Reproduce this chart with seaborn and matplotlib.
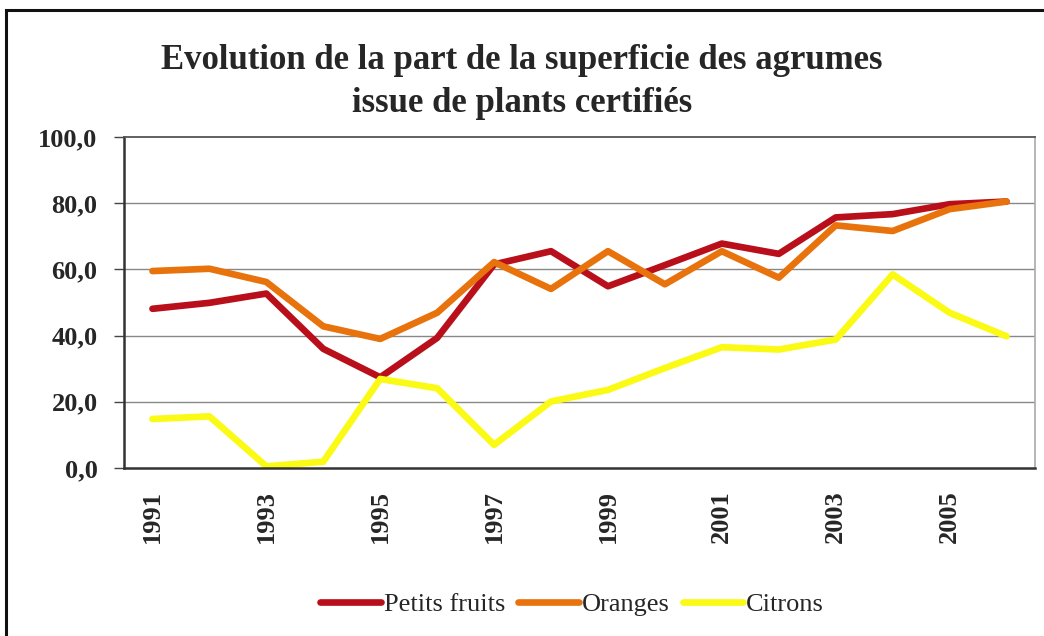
import numpy as np
import pandas as pd
import matplotlib
matplotlib.use("Agg")
import matplotlib.pyplot as plt
import seaborn as sns
from matplotlib.lines import Line2D
from matplotlib.patches import Rectangle

years = list(range(1991, 2007))
petits_fruits = [48.1, 49.9, 52.7, 36.0, 27.4, 39.3, 61.5, 65.5, 54.9, 61.3, 67.8, 64.7, 75.7, 76.7, 79.7, 80.5]
oranges = [59.5, 60.2, 56.2, 42.8, 39.0, 46.9, 62.2, 54.1, 65.5, 55.5, 65.5, 57.5, 73.3, 71.6, 78.2, 80.5]
citrons = [14.8, 15.6, 0.5, 1.9, 26.9, 24.1, 7.0, 20.1, 23.6, 30.2, 36.5, 35.8, 38.8, 58.5, 46.9, 39.8]
series_names = ["Petits fruits", "Oranges", "Citrons"]
colors = ["#B80F1A", "#E8720C", "#FAFA14"]
y_ticks = [0, 20, 40, 60, 80, 100]
y_labels = ["0,0", "20,0", "40,0", "60,0", "80,0", "100,0"]
title = "Evolution de la part de la superficie des agrumes\nissue de plants certifiés"

sns.set_theme(style="white")
plt.rcParams["font.family"] = ["Liberation Serif", "DejaVu Serif"]

rows = []
for name, vals in zip(series_names, [petits_fruits, oranges, citrons]):
    for i, (yr, v) in enumerate(zip(years, vals)):
        rows.append({"idx": i, "year": yr, "value": v, "series": name})
df = pd.DataFrame(rows)

fig = plt.figure(figsize=(10.44, 6.36), dpi=100)
fig.patch.set_facecolor("white")
ax = fig.add_axes([124 / 1044, 1 - 468 / 636, (1035 - 124) / 1044, (468 - 137) / 636])

sns.lineplot(data=df, x="idx", y="value", hue="series", hue_order=series_names,
             palette=colors, linewidth=4.8, legend=False, ax=ax, sort=False)

ax.set_xlim(-0.5, len(years) - 0.5)
ax.set_ylim(0, 100)
ax.set_yticks(y_ticks)
ax.set_yticklabels(y_labels, fontsize=19, fontweight="bold")
ax.set_xticks(range(0, len(years), 2))
ax.set_xticklabels([str(y) for y in years[::2]], rotation=90, fontsize=19, fontweight="bold")
ax.set_xticks(np.arange(-0.5, len(years), 1), minor=True)
ax.tick_params(axis="x", which="major", length=0, pad=16)
ax.tick_params(axis="x", which="minor", length=6, width=1, color="#444444", direction="out")
ax.tick_params(axis="y", which="major", length=7, width=1, color="#444444", direction="out", pad=12, left=True)
ax.set_xlabel("")
ax.set_ylabel("")
ax.grid(False)
for v in y_ticks[1:-1]:
    ax.axhline(v, color="#888888", linewidth=1.0, zorder=0)

for side in ["left", "bottom"]:
    ax.spines[side].set_color("#333333")
    ax.spines[side].set_linewidth(1.8)
ax.spines["top"].set_color("#555555")
ax.spines["top"].set_linewidth(1.3)
ax.spines["right"].set_color("#aaaaaa")
ax.spines["right"].set_linewidth(1.2)
for s in ax.spines.values():
    s.set_visible(True)

fig.text(0.5, 1 - 82 / 636, title, ha="center", va="center", fontsize=25,
         fontweight="bold", linespacing=1.4)

handles = [Line2D([0], [0], color=c, linewidth=4.8) for c in colors]
fig.legend(handles, series_names, loc="center", bbox_to_anchor=(572 / 1044, 1 - 604 / 636),
           ncol=3, frameon=False, fontsize=19, handlelength=2.3, handletextpad=0.1,
           columnspacing=0.5)

fig.add_artist(Rectangle((6 / 1044, -0.2), 1.5, 1.2 - 10 / 636 + 0.0,
                         transform=fig.transFigure, fill=False, edgecolor="#111111",
                         linewidth=2.2))

fig.savefig("out.png", dpi=100, facecolor="white")
